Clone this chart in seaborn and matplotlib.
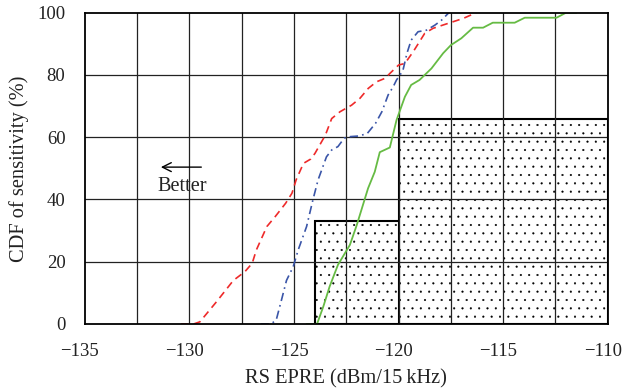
import matplotlib
matplotlib.use("Agg")
import matplotlib.pyplot as plt
import matplotlib.transforms as mtransforms
import seaborn as sns
import numpy as np
from matplotlib.patches import Rectangle

# ---- data ----
red_x = [-130.4, -129.8, -129.5, -128.7, -127.9, -127.35, -127.0, -126.8, -126.3, -125.9,
         -125.4, -125.1, -124.9, -124.55, -124.2, -124.0, -123.5, -123.2, -122.8, -122.25,
         -121.85, -121.45, -121.06, -120.66, -120.34, -120.0, -119.7, -119.3, -118.75,
         -118.35, -117.9, -117.4, -116.9, -116.3]
red_y = [0, 0, 0.7, 7.2, 14, 16.8, 19.5, 23.8, 31.3, 34.5,
         38.8, 42, 46.3, 51.6, 53, 54.8, 60.7, 66, 68.2, 70.3,
         72.5, 75.7, 77.8, 78.9, 81, 83.2, 83.7, 87.5, 93.4,
         95, 96, 97.1, 98.2, 100]

blue_x = [-126.6, -126.1, -125.85, -125.6, -125.36, -125.04, -124.8, -124.4, -124.1, -123.85,
          -123.45, -123.2, -122.9, -122.6, -122.3, -121.9, -121.5, -121.1, -120.8, -120.5,
          -120.26, -120.1, -119.8, -119.6, -119.4, -119.07, -118.67, -118.27, -117.95, -117.6]
blue_y = [0, 0, 1.3, 7.7, 14, 18.4, 23.8, 31.3, 39.8, 46.3,
          53.7, 55.9, 57, 59.7, 60.2, 60.4, 61.2, 64.5, 68.2, 73.6,
          76.2, 78.4, 81.3, 87, 91.2, 93.9, 94.4, 96, 97.6, 100]

green_x = [-124.4, -123.9, -123.6, -123.3, -122.9, -122.33, -122.0, -121.46, -121.14, -120.9,
           -120.42, -120.1, -119.7, -119.4, -119.0, -118.43, -117.87, -117.5, -117.0, -116.44,
           -115.96, -115.5, -114.45, -113.97, -112.45, -112.0, -111.5]
green_y = [0, 0, 5.6, 12, 19, 25.4, 31.8, 43.6, 48.9, 55.2,
           56.7, 65.5, 73, 76.8, 78.4, 82.1, 87, 89.6, 91.8, 95.2,
           95.2, 96.8, 96.8, 98.4, 98.4, 100, 100]

# requirement regions (x_start, height), extending to right edge
region_x = [-124.0, -120.0]
region_top = [33, 66]

x_ticks = [-135, -130, -125, -120, -115, -110]
y_ticks = [0, 20, 40, 60, 80, 100]

# ---- style ----
sns.set_theme(style="white")
plt.rcParams['font.family'] = ['Liberation Serif', 'DejaVu Serif']
plt.rcParams['hatch.linewidth'] = 0.3

fig = plt.figure(figsize=(6.24, 3.92), dpi=100)
ax = fig.add_axes([0.136, 0.1735, 0.838, 0.794])

xmin, xmax = -135, -110
for rx, rt in zip(region_x, region_top):
    ax.add_patch(Rectangle((rx, 0), xmax - rx, rt, facecolor='white', edgecolor='black',
                           hatch='..', linewidth=1.5, zorder=1))

# gridlines
for gx in np.arange(-132.5, -110, 2.5):
    ax.axvline(gx, color='#222222', linewidth=0.9, zorder=2)
for gy in [20, 40, 60, 80]:
    ax.axhline(gy, color='#222222', linewidth=0.9, zorder=2)

sns.lineplot(x=red_x, y=red_y, sort=False, estimator=None, ax=ax, color='#ee2a2a',
             linewidth=1.2, zorder=4)
ax.lines[-1].set_dashes([4.5, 3])
sns.lineplot(x=blue_x, y=blue_y, sort=False, estimator=None, ax=ax, color='#3a55a8',
             linewidth=1.2, zorder=4)
ax.lines[-1].set_dashes([5, 2.5, 1, 2.5])
sns.lineplot(x=green_x, y=green_y, sort=False, estimator=None, ax=ax, color='#66bb44',
             linewidth=1.3, zorder=4)

ax.set_xlim(xmin, xmax)
ax.set_ylim(0, 100)
ax.set_xticks(x_ticks)
ax.set_yticks(y_ticks)
ax.tick_params(axis='both', direction='out', length=7, width=1.0, color='black',
               labelsize=13.5, labelcolor='#222222', pad=7)
for s in ax.spines.values():
    s.set_color('black')
    s.set_linewidth(1.3)
    s.set_visible(True)
    s.set_zorder(5)

ax.set_xlabel('RS EPRE (dBm/15\u2009kHz)', fontsize=14.7, color='#222222', labelpad=6)
ax.set_ylabel('CDF of sensitivity (%)', fontsize=14.7, color='#222222', labelpad=6)

ax.annotate('', xy=(-131.5, 50.4), xytext=(-129.3, 50.4),
            arrowprops=dict(arrowstyle='->', color='black', lw=1.0, mutation_scale=16))
ax.text(-130.35, 44.3, 'Better', fontsize=14.7, ha='center', va='center', color='#222222')

fig.canvas.draw()
shift = mtransforms.ScaledTranslation(-5 / 100, 0, fig.dpi_scale_trans)
for lbl in ax.get_xticklabels():
    lbl.set_transform(lbl.get_transform() + shift)

fig.savefig('out.png', dpi=100)
